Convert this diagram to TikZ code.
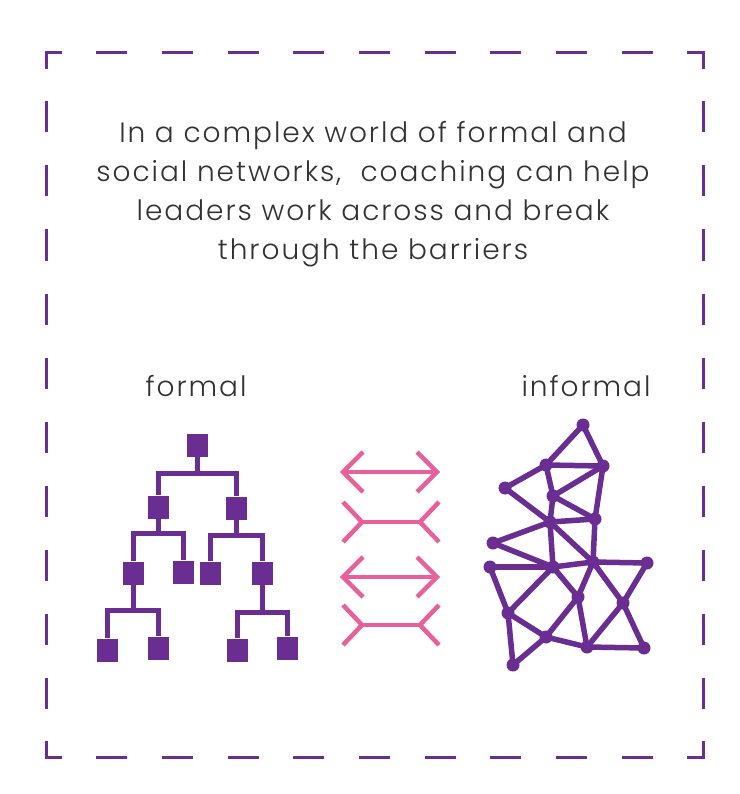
\documentclass[tikz,border=0pt]{standalone}
\usepackage{fontspec}
\IfFontExistsTF{Poppins Light}{\setmainfont{Poppins Light}[LetterSpace=7]}{\setmainfont{Poppins}[LetterSpace=7]}
\usetikzlibrary{calc}
\definecolor{netpurple}{RGB}{106,45,145}
\definecolor{arrowpink}{RGB}{232,96,154}
\definecolor{textgray}{RGB}{50,50,50}
\tikzset{
    frame/.style={draw=netpurple, line width=3pt},
    box/.style={fill=netpurple, minimum width=21pt, minimum height=23pt, inner sep=0pt},
    branch/.style={draw=netpurple, line width=5pt},
    dot/.style={circle, fill=netpurple, minimum size=13pt, inner sep=0pt},
    link/.style={draw=netpurple, line width=5.5pt},
    swap/.style={draw=arrowpink, line width=4.5pt},
    caption/.style={text=textgray, font=\fontsize{28}{39}\selectfont, align=center},
}

\begin{document}
\begin{tikzpicture}[x=1pt,y=-1pt]
	\useasboundingbox (0,0) rectangle (739,794);
	% dashed frame
	\draw[frame] (46,69) -- (46,53) -- (62,53);
	\draw[frame] (687,53) -- (703,53) -- (703,69);
	\draw[frame] (46,741) -- (46,757) -- (62,757);
	\draw[frame] (687,757) -- (703,757) -- (703,741);
	\foreach \k in {1,...,9} {
		\draw[frame] ({46+65.7*\k-15.5},53) -- ({46+65.7*\k+15.5},53);
		\draw[frame] ({46+65.7*\k-15.5},757) -- ({46+65.7*\k+15.5},757);
	}
	\foreach \k in {1,...,10} {
		\draw[frame] (46,{53+64*\k-15.5}) -- (46,{53+64*\k+15.5});
		\draw[frame] (703,{53+64*\k-15.5}) -- (703,{53+64*\k+15.5});
	}
	% text
	\node[caption] (title) at (373,194) {In a complex world of formal and\\social networks,\ \ coaching can help\\leaders work across and break\\through the barriers};
	\node[caption] (formal) at (196,386) {formal};
	\node[caption] (informal) at (586,386) {informal};
	% formal tree
	\node[box] (r) at (197,445) {};
	\node[box] (a) at (158,507) {};
	\node[box] (b) at (236,508) {};
	\node[box] (aa) at (133,573) {};
	\node[box] (ab) at (183,572) {};
	\node[box] (ba) at (210,573) {};
	\node[box] (bb) at (262,573) {};
	\node[box] (aaa) at (107,650) {};
	\node[box] (aab) at (158,648) {};
	\node[box] (bba) at (237,650) {};
	\node[box] (bbb) at (287,648) {};
	\coordinate (rbar) at (197,473);
	\coordinate (abar) at (158,533);
	\coordinate (bbar) at (236,535);
	\coordinate (aabar) at (133,610);
	\coordinate (bbbar) at (262,612);
	\draw[branch] (r) -- (rbar) -| (a);
	\draw[branch] (rbar) -| (b);
	\draw[branch] (a) -- (abar) -| (aa);
	\draw[branch] (abar) -| (ab);
	\draw[branch] (b) -- (bbar) -| (ba);
	\draw[branch] (bbar) -| (bb);
	\draw[branch] (aa) -- (aabar) -| (aaa);
	\draw[branch] (aabar) -| (aab);
	\draw[branch] (bb) -- (bbbar) -| (bba);
	\draw[branch] (bbbar) -| (bbb);
	% arrows
	\foreach \y in {472,577} {
		\draw[swap] (343,\y) -- (437,\y);
		\draw[swap] (363,\y-20) -- (343,\y) -- (363,\y+20);
		\draw[swap] (417,\y-20) -- (437,\y) -- (417,\y+20);
	}
	\foreach \y in {522,625} {
		\draw[swap] (362,\y) -- (420,\y);
		\draw[swap] (343,\y-20) -- (362,\y) -- (343,\y+20);
		\draw[swap] (439,\y-20) -- (420,\y) -- (439,\y+20);
	}
	% informal network
	\node[dot] (A) at (583,425) {};
	\node[dot] (B) at (546,465) {};
	\node[dot] (C) at (603,466) {};
	\node[dot] (D) at (505,488) {};
	\node[dot] (E) at (553,496) {};
	\node[dot] (F) at (550,522) {};
	\node[dot] (G) at (595,519) {};
	\node[dot] (H) at (493,543) {};
	\node[dot] (I) at (490,567) {};
	\node[dot] (J) at (553,567) {};
	\node[dot] (K) at (593,562) {};
	\node[dot] (L) at (647,563) {};
	\node[dot] (M) at (578,597) {};
	\node[dot] (N) at (508,613) {};
	\node[dot] (O) at (623,603) {};
	\node[dot] (P) at (546,637) {};
	\node[dot] (Q) at (587,647) {};
	\node[dot] (R) at (644,648) {};
	\node[dot] (S) at (513,665) {};
	\foreach \u/\v in {A/B,A/C,B/C,B/D,B/E,E/F,C/E,E/G,C/G,D/F,F/G,F/H,F/J,F/K,
		H/J,G/K,I/J,J/K,K/L,I/N,J/N,J/M,K/M,K/O,L/O,M/Q,M/P,N/P,N/S,S/P,P/Q,Q/R,O/Q,O/R}
		\draw[link] (\u.center) -- (\v.center);
\end{tikzpicture}
\end{document}
